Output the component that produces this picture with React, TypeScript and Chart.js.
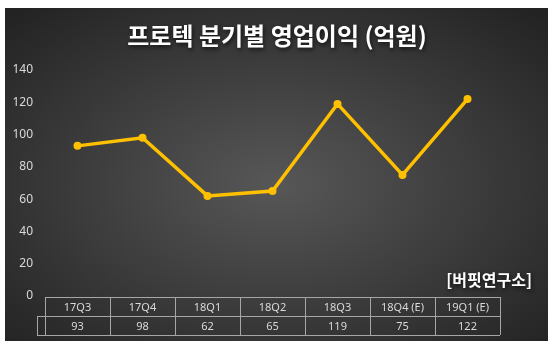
import React, { useEffect, useRef } from "react";
import { Chart, registerables } from "chart.js";

Chart.register(...registerables);

const categories = ["17Q3", "17Q4", "18Q1", "18Q2", "18Q3", "18Q4 (E)", "19Q1 (E)"];
const profits = [93, 98, 62, 65, 119, 75, 122];
const titleText = "프로텍 분기별 영업이익 (억원)";
const sourceText = "[버핏연구소]";
const yMin = 0;
const yMax = 140;
const yStep = 20;

const W = 554;
const H = 351;
const KR = '"Noto Sans CJK KR", "Noto Sans", sans-serif';
const NUM = '"Noto Sans", "DejaVu Sans", sans-serif';

export default function App() {
  const ref = useRef<HTMLCanvasElement>(null);

  useEffect(() => {
    const canvas = ref.current;
    if (!canvas) return;

    const bgPlugin = {
      id: "bgPlugin",
      beforeDraw(chart: any) {
        const ctx = chart.ctx as CanvasRenderingContext2D;
        const x0 = 5, y0 = 8, x1 = 548, y1 = 341;
        ctx.save();
        ctx.fillStyle = "#ffffff";
        ctx.fillRect(0, 0, W, H);
        ctx.beginPath();
        ctx.rect(x0, y0, x1 - x0, y1 - y0);
        ctx.clip();
        const cx = (x0 + x1) / 2, cy = (y0 + y1) / 2 + 10;
        ctx.translate(cx, cy);
        ctx.scale(1, 0.62);
        const g = ctx.createRadialGradient(0, 0, 0, 0, 0, 380);
        g.addColorStop(0, "#575757");
        g.addColorStop(1, "#232323");
        ctx.fillStyle = g;
        ctx.fillRect(-400, -400, 800, 800);
        ctx.restore();
      },
    };

    const overlayPlugin = {
      id: "overlayPlugin",
      afterDraw(chart: any) {
        const ctx = chart.ctx as CanvasRenderingContext2D;
        const xs = chart.scales.x;
        const area = chart.chartArea;
        const half = (xs.getPixelForValue(1) - xs.getPixelForValue(0)) / 2;
        const top = Math.round(area.bottom) + 1;
        const rowH = 19;
        ctx.save();
        // title
        ctx.shadowColor = "rgba(0,0,0,0.7)";
        ctx.shadowBlur = 4;
        ctx.shadowOffsetX = 1;
        ctx.shadowOffsetY = 2;
        ctx.fillStyle = "#ffffff";
        ctx.textAlign = "center";
        ctx.textBaseline = "middle";
        ctx.font = `bold 24px ${KR}`;
        ctx.fillText(titleText, 277, 36);
        // source
        ctx.font = `bold 16px ${KR}`;
        ctx.textAlign = "right";
        ctx.fillText(sourceText, 532, 280);
        ctx.restore();

        // table
        ctx.save();
        ctx.strokeStyle = "#a6a6a6";
        ctx.lineWidth = 1;
        const n = categories.length;
        const left = Math.round(xs.getPixelForValue(0) - half);
        const right = Math.round(xs.getPixelForValue(n - 1) + half);
        const keyLeft = left - 8;
        ctx.beginPath();
        ctx.moveTo(left, top + 0.5);
        ctx.lineTo(right, top + 0.5);
        ctx.moveTo(keyLeft, top + rowH + 0.5);
        ctx.lineTo(right, top + rowH + 0.5);
        ctx.moveTo(keyLeft, top + 2 * rowH + 0.5);
        ctx.lineTo(right, top + 2 * rowH + 0.5);
        ctx.moveTo(keyLeft + 0.5, top + rowH);
        ctx.lineTo(keyLeft + 0.5, top + 2 * rowH);
        for (let i = 0; i <= n; i++) {
          const px = Math.round(i < n ? xs.getPixelForValue(i) - half : xs.getPixelForValue(n - 1) + half) + 0.5;
          ctx.moveTo(px, top);
          ctx.lineTo(px, top + 2 * rowH);
        }
        ctx.stroke();
        ctx.fillStyle = "#d9d9d9";
        ctx.textAlign = "center";
        ctx.textBaseline = "middle";
        ctx.font = `11px ${NUM}`;
        for (let i = 0; i < n; i++) {
          const cx = xs.getPixelForValue(i);
          ctx.fillText(categories[i], cx, top + rowH / 2 + 1);
          ctx.fillText(String(profits[i]), cx, top + rowH * 1.5 + 1);
        }
        ctx.restore();
      },
    };

    const chart = new Chart(canvas, {
      type: "line",
      data: {
        labels: categories,
        datasets: [
          {
            label: "영업이익",
            data: profits,
            borderColor: "#FFC000",
            backgroundColor: "#FFC000",
            borderWidth: 3.5,
            pointRadius: 4,
            pointBackgroundColor: "#FFC000",
            pointBorderColor: "#FFC000",
            pointBorderWidth: 0,
            tension: 0,
          },
        ],
      },
      options: {
        responsive: false,
        animation: false,
        events: [],
        layout: { padding: { left: 0, right: 54, top: 70, bottom: 55 } },
        plugins: {
          legend: { display: false },
          title: { display: false },
          tooltip: { enabled: false },
        },
        scales: {
          x: {
            type: "category",
            offset: true,
            display: false,
          },
          y: {
            min: yMin,
            max: yMax,
            afterFit(scale: any) {
              scale.width = 45;
            },
            ticks: {
              stepSize: yStep,
              padding: 4,
              color: "#d9d9d9",
              font: { size: 12, family: NUM },
            },
            grid: { display: false },
            border: { display: false },
          },
        },
      },
      plugins: [bgPlugin, overlayPlugin],
    });

    return () => chart.destroy();
  }, []);

  return (
    <div style={{ position: "fixed", left: 0, top: 0, width: W, height: H, background: "#fff" }}>
      <canvas ref={ref} width={W} height={H} style={{ display: "block", width: W, height: H }} />
    </div>
  );
}
